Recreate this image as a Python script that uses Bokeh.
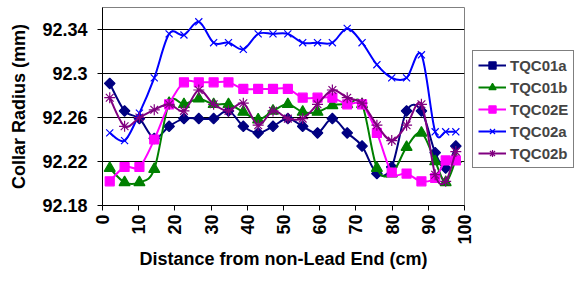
import numpy as np
from math import pi
from bokeh.plotting import figure
from bokeh.models import Range1d, FixedTicker, PrintfTickFormatter, Legend, LegendItem
from bokeh.embed import file_html
from bokeh.resources import INLINE

# ---- data ----
x_cm = [2.0, 6.1, 10.2, 14.3, 18.4, 22.5, 26.6, 30.7, 34.8, 38.9, 43.0, 47.1, 51.2,
        55.3, 59.4, 63.5, 67.6, 71.7, 75.8, 79.9, 84.0, 88.1, 91.9, 94.8, 97.6]

tqc01a = [92.291, 92.266, 92.259, 92.241, 92.252, 92.259, 92.259, 92.259, 92.266, 92.252,
          92.246, 92.252, 92.259, 92.252, 92.246, 92.259, 92.246, 92.234, 92.209, 92.215,
          92.266, 92.266, 92.228, 92.214, 92.234]
tqc01b = [92.214, 92.201, 92.201, 92.213, 92.273, 92.272, 92.277, 92.272, 92.272, 92.265,
          92.258, 92.266, 92.272, 92.265, 92.265, 92.271, 92.272, 92.272, 92.214, 92.209,
          92.233, 92.246, 92.220, 92.201, 92.222]
tqc02e = [92.202, 92.215, 92.215, 92.240, 92.272, 92.292, 92.292, 92.292, 92.292, 92.286,
          92.286, 92.286, 92.286, 92.278, 92.278, 92.278, 92.272, 92.272, 92.246, 92.210,
          92.209, 92.202, 92.205, 92.221, 92.221]
tqc02a = [92.246, 92.239, 92.264, 92.296, 92.336, 92.335, 92.347, 92.328, 92.328, 92.322,
          92.336, 92.336, 92.336, 92.328, 92.328, 92.328, 92.341, 92.328, 92.308, 92.296,
          92.296, 92.317, 92.247, 92.247, 92.247]
tqc02b = [92.278, 92.252, 92.260, 92.267, 92.272, 92.266, 92.285, 92.272, 92.266, 92.273,
          92.253, 92.266, 92.259, 92.259, 92.272, 92.285, 92.278, 92.273, 92.253, 92.239,
          92.253, 92.272, 92.208, 92.202, 92.229]

series_names = ["TQC01a", "TQC01b", "TQC02E", "TQC02a", "TQC02b"]
series_values = [tqc01a, tqc01b, tqc02e, tqc02a, tqc02b]

x_ticks = [0, 10, 20, 30, 40, 50, 60, 70, 80, 90, 100]
y_ticks = [92.18, 92.22, 92.26, 92.30, 92.34]

# ---- styles ----
colors = ["#000080", "#008000", "#FF00FF", "#0000FF", "#800080"]
markers = ["square", "triangle", "square", "x", "asterisk"]
angles = [pi / 4, 0, 0, 0, 0]
sizes = [7.5, 11, 9, 10, 11]
filled = [True, True, True, False, False]

FONT = "Liberation Sans"


def smooth_controls(xs, ys):
    x = np.asarray(xs, dtype=float)
    y = np.asarray(ys, dtype=float)
    xp = np.concatenate([[x[0]], x, [x[-1]]])
    yp = np.concatenate([[y[0]], y, [y[-1]]])
    cx0 = xp[1:-2] + (xp[2:-1] - xp[0:-3]) / 6.0
    cy0 = yp[1:-2] + (yp[2:-1] - yp[0:-3]) / 6.0
    cx1 = xp[2:-1] - (xp[3:] - xp[1:-2]) / 6.0
    cy1 = yp[2:-1] - (yp[3:] - yp[1:-2]) / 6.0
    return dict(x0=x[:-1], y0=y[:-1], x1=x[1:], y1=y[1:],
                cx0=cx0, cy0=cy0, cx1=cx1, cy1=cy1)


p = figure(frame_width=362, frame_height=198, output_backend="svg", toolbar_location=None,
           x_range=Range1d(0, 100), y_range=Range1d(92.18, 92.36),
           min_border_left=102, min_border_right=0, min_border_top=7,
           min_border_bottom=61)
p.outline_line_color = "#808080"
p.background_fill_color = "white"
p.border_fill_color = "white"

p.xgrid.visible = False
p.ygrid.grid_line_color = "black"
p.ygrid.grid_line_width = 1
p.ygrid.ticker = FixedTicker(ticks=y_ticks)

p.xaxis.ticker = FixedTicker(ticks=x_ticks)
p.yaxis.ticker = FixedTicker(ticks=y_ticks)
p.yaxis.formatter = PrintfTickFormatter(format="%.4g")
p.xaxis.major_label_orientation = pi / 2

for ax in (p.xaxis, p.yaxis):
    ax.axis_line_color = "black"
    ax.major_tick_line_color = "black"
    ax.minor_tick_line_color = None
    ax.major_tick_in = 0
    ax.major_tick_out = 5
    ax.major_label_text_font = FONT
    ax.major_label_text_font_style = "bold"
    ax.major_label_text_font_size = "18px"
    ax.major_label_text_color = "black"
    ax.axis_label_text_font = FONT
    ax.axis_label_text_font_style = "bold"
    ax.axis_label_text_font_size = "18px"
    ax.axis_label_text_color = "black"

p.xaxis.axis_label = "Distance from non-Lead End (cm)"
p.yaxis.axis_label = "Collar Radius (mm)"
p.xaxis.major_label_standoff = 4
p.xaxis.axis_label_standoff = 1
p.yaxis.major_label_standoff = 10
p.yaxis.axis_label_standoff = 10

items = []
for name, vals, c, m, a, s, f in zip(series_names, series_values, colors, markers,
                                      angles, sizes, filled):
    b = p.bezier(line_color=c, line_width=2, **smooth_controls(x_cm, vals))
    sc = p.scatter(x_cm, vals, marker=m, angle=a, size=s, line_color=c,
                   fill_color=c if f else None, line_width=1.2)
    items.append(LegendItem(label=name, renderers=[b, sc]))

legend = Legend(items=items, location=(8, 37), border_line_color="black",
                border_line_width=1, background_fill_color="white",
                background_fill_alpha=1, padding=5, spacing=4, margin=4,
                glyph_width=28, glyph_height=18, label_height=18,
                label_standoff=4, label_text_font=FONT,
                label_text_font_style="bold", label_text_font_size="15px")
p.add_layout(legend, "right")

open("out.html", "w").write(file_html(p, INLINE))
